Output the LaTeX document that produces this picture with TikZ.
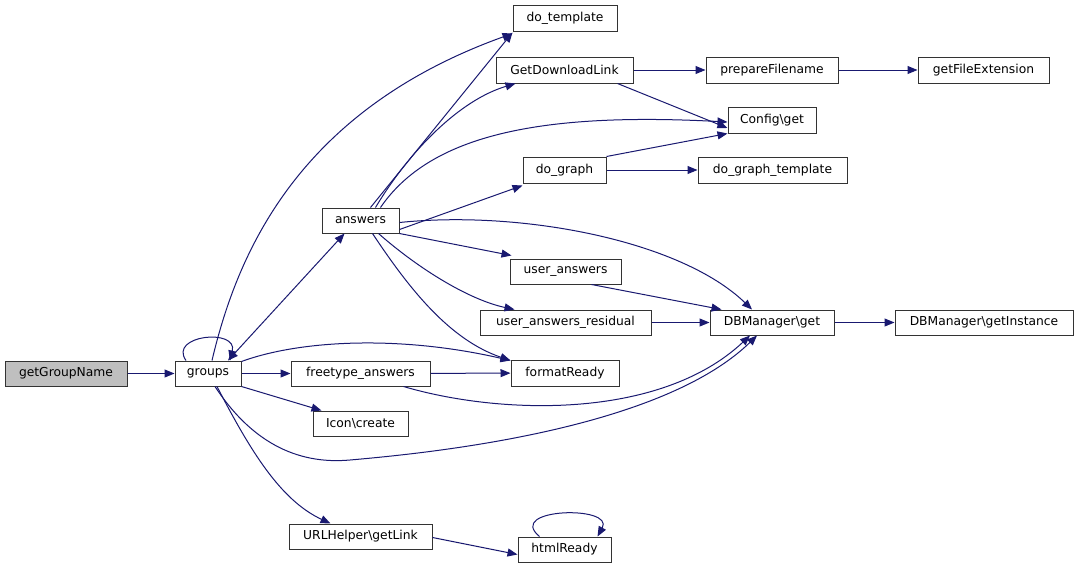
\documentclass[tikz,border=0pt]{standalone}
\usepackage{fontspec}
\setmainfont{DejaVu Sans}
\usetikzlibrary{arrows.meta}
\definecolor{edgeblue}{HTML}{191970}
\definecolor{boxline}{HTML}{333333}
\definecolor{startfill}{HTML}{BFBFBF}
\begin{document}
\begin{tikzpicture}[x=1pt,y=-1pt,
  box/.style={draw=boxline, line width=1pt, fill=white, rectangle, inner sep=0pt, minimum height=25pt,
    font=\fontsize{12.3}{14}\selectfont},
  arr/.style={draw=edgeblue, line width=1pt, -{Triangle[length=10pt,width=8pt]}},
  arrb/.style={draw=edgeblue, line width=1pt, {Triangle[length=10pt,width=8pt]}-{Triangle[length=10pt,width=8pt]}}]
\useasboundingbox (0,0) rectangle (1079,568);
% nodes
\node[box, fill=startfill, minimum width=122pt] (ggn) at (66,373.5) {getGroupName};
\node[box, minimum width=66pt] (groups) at (208,373.5) {groups};
\node[box, minimum width=139pt] (fta) at (360.5,373.5) {freetype\_answers};
\node[box, minimum width=95pt] (icon) at (360.5,423.5) {Icon\textbackslash create};
\node[box, minimum width=143pt] (url) at (360.5,536.5) {URLHelper\textbackslash getLink};
\node[box, minimum width=77pt] (answers) at (360.5,220.5) {answers};
\node[box, minimum width=104pt, minimum height=26pt] (dotpl) at (565,18) {do\_template};
\node[box, minimum width=137pt, minimum height=26pt] (gdl) at (564.5,70) {GetDownloadLink};
\node[box, minimum width=83pt, minimum height=26pt] (dograph) at (564.5,170) {do\_graph};
\node[box, minimum width=88pt, minimum height=26pt] (cfg) at (772,120) {Config\textbackslash get};
\node[box, minimum width=132pt, minimum height=26pt] (prep) at (772,70) {prepareFilename};
\node[box, minimum width=131pt, minimum height=26pt] (gfe) at (983.5,70) {getFileExtension};
\node[box, minimum width=149pt, minimum height=26pt] (dgt) at (772.5,170) {do\_graph\_template};
\node[box, minimum width=111pt] (ua) at (565.5,271.5) {user\_answers};
\node[box, minimum width=171pt] (uar) at (565.5,322.5) {user\_answers\_residual};
\node[box, minimum width=124pt] (dbget) at (772,322.5) {DBManager\textbackslash get};
\node[box, minimum width=178pt] (dbinst) at (984,322.5) {DBManager\textbackslash getInstance};
\node[box, minimum width=108pt, minimum height=26pt] (fr) at (565,373) {formatReady};
\node[box, minimum width=93pt] (html) at (564.5,549.5) {htmlReady};
% edges
\draw[arr] (ggn) -- (groups);
\draw[arr] ([xshift=-22pt]groups.north) .. controls (168,335) and (238,328) .. ([xshift=22pt]groups.north);
\draw[arrb] ([xshift=20pt]groups.north) -- ([xshift=-16pt]answers.south);
\draw[arr] ([xshift=4pt]groups.north) .. controls (238,250) and (300,110) .. ([yshift=-2pt]dotpl.south west);
\draw[arr] ([xshift=10pt]answers.north) -- ([yshift=-1pt]dotpl.south west);
\draw[arr] ([xshift=15pt]answers.north) .. controls (410,150) and (460,100) .. ([xshift=20pt]gdl.south west);
\draw[arr] ([xshift=20pt]answers.north) .. controls (430,135) and (540,112) .. ([yshift=-2pt]cfg.west);
\draw[arr] ([yshift=-9pt]answers.east) -- ([yshift=-2pt]dograph.south west);
\draw[arr] ([yshift=-2pt]answers.east) .. controls (520,210) and (680,240) .. ([xshift=-20pt]dbget.north);
\draw[arr] ([yshift=0pt]answers.south east) -- ([xshift=2pt,yshift=3pt]ua.north west);
\draw[arr] ([xshift=18pt]answers.south) .. controls (420,270) and (470,300) .. ([xshift=35pt]uar.north west);
\draw[arr] ([xshift=12pt]answers.south) .. controls (410,290) and (450,340) .. ([yshift=-1pt]fr.north west);
\draw[arr] ([yshift=-1pt]groups.north east) .. controls (300,340) and (400,335) .. ([yshift=-1pt]fr.north west);
\draw[arr] (groups) -- (fta);
\draw[arr] (fta) -- (fr);
\draw[arr] ([xshift=-27pt]fta.south east) .. controls (500,415) and (660,420) .. ([xshift=-22pt]dbget.south);
\draw[arr] ([xshift=7pt]groups.south) .. controls (250,440) and (295,465) .. (350,460) .. controls (430,453) and (660,430) .. ([xshift=-15pt]dbget.south);
\draw[arr] (groups.south east) -- ([xshift=9pt]icon.north west);
\draw[arr] ([xshift=9pt]groups.south) .. controls (250,450) and (280,500) .. ([xshift=-30pt]url.north);
\draw[arr] ([yshift=-1pt]url.east) -- ([yshift=-5pt]html.west);
\draw[arr] ([xshift=-25pt]html.north) .. controls (505,508) and (615,505) .. ([xshift=33pt]html.north);
\draw[arr] (gdl) -- (prep);
\draw[arr] ([xshift=-16pt]gdl.south east) -- ([yshift=-8pt]cfg.west);
\draw[arr] (prep) -- (gfe);
\draw[arr] (dograph.north east) -- (cfg.south west);
\draw[arr] (dograph) -- (dgt);
\draw[arr] ([xshift=-30pt]ua.south east) -- ([xshift=12pt]dbget.north west);
\draw[arr] (uar) -- (dbget);
\draw[arr] (dbget) -- (dbinst);
\end{tikzpicture}
\end{document}
